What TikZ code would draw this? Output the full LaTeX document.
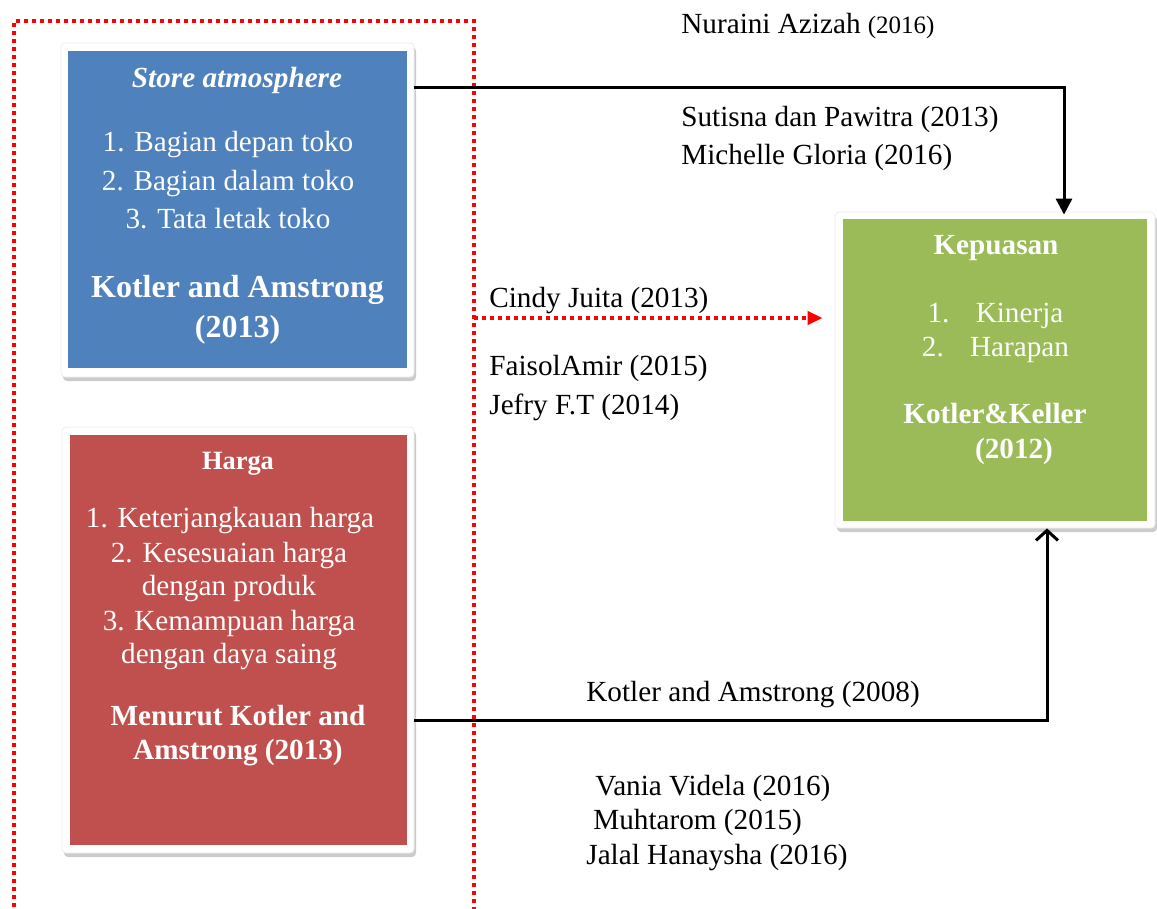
\documentclass[tikz,border=0pt]{standalone}
\usepackage{fontspec}
\setmainfont{Liberation Serif}
\usetikzlibrary{arrows.meta,shadows}
\definecolor{storeblue}{HTML}{4F81BD}
\definecolor{hargared}{HTML}{C0504D}
\definecolor{puasgreen}{HTML}{9BBB59}

\begin{document}
\begin{tikzpicture}[x=0.5pt,y=-0.5pt,
	frame/.style={fill=white,draw=black!7,line width=0.4pt,rounded corners=2pt,inner sep=0pt,
		drop shadow={shadow xshift=1pt,shadow yshift=-2pt,opacity=0.4}},
	inbox/.style={inner sep=0pt},
	wtxt/.style={text=white,anchor=base,inner sep=0pt,font=\fontsize{14.6}{17}\selectfont},
	wbold/.style={wtxt,font=\fontsize{14.6}{17}\selectfont\bfseries},
	btxt/.style={anchor=base west,inner sep=0pt,font=\fontsize{14.6}{17}\selectfont},
	reddots/.style={red,line width=2pt,dash pattern=on 2pt off 2pt}]
	\useasboundingbox (0,0) rectangle (1157,909);

	% dotted frame round the two variables
	\draw[reddots] (14,915) |- (474,21) -- (474,915);

	% boxes
	\node[frame,minimum width=176.5pt,minimum height=167pt] (store) at (237.5,210) {};
	\node[inbox,fill=storeblue,minimum width=169.5pt,minimum height=158.5pt] (storein) at (237.5,209.5) {};
	\node[frame,minimum width=176pt,minimum height=213pt] (harga) at (238,640) {};
	\node[inbox,fill=hargared,minimum width=168.5pt,minimum height=205pt] (hargain) at (238.5,640) {};
	\node[frame,minimum width=160pt,minimum height=158pt] (puas) at (995,370) {};
	\node[inbox,fill=puasgreen,minimum width=152pt,minimum height=151pt] (puasin) at (995,370) {};

	% store atmosphere
	\node[wbold,font=\fontsize{14.6}{17}\selectfont\bfseries\itshape] (sttitle) at (237,88) {Store atmosphere};
	\node[wtxt] (stone) at (228,152) {1. Bagian depan toko};
	\node[wtxt] (sttwo) at (228,191) {2. Bagian dalam toko};
	\node[wtxt] (stthree) at (228,229) {3. Tata letak toko};
	\node[wbold,font=\fontsize{16}{19}\selectfont\bfseries] (stsrc) at (237.5,298) {Kotler and Amstrong};
	\node[wbold,font=\fontsize{16}{19}\selectfont\bfseries] (styear) at (237.5,337) {(2013)};

	% harga
	\node[wbold,font=\fontsize{13.2}{16}\selectfont\bfseries] (hgtitle) at (238,469) {Harga};
	\node[wtxt] (hgone) at (230,527) {1. Keterjangkauan harga};
	\node[wtxt] (hgtwo) at (229,562) {2. Kesesuaian harga};
	\node[wtxt] (hgtwob) at (229,595) {dengan produk};
	\node[wtxt] (hgthree) at (229,630) {3. Kemampuan harga};
	\node[wtxt] (hgthreeb) at (229,663) {dengan daya saing};
	\node[wbold] (hgsrc) at (238,725) {Menurut Kotler and};
	\node[wbold] (hgyear) at (238,759) {Amstrong (2013)};

	% kepuasan
	\node[wbold] (kptitle) at (996,255) {Kepuasan};
	\node[wtxt] (kpone) at (995.5,322) {1.\hspace{0.9em}Kinerja};
	\node[wtxt] (kptwo) at (995.5,357) {2.\hspace{0.9em}Harapan};
	\node[wbold] (kpsrc) at (995,423) {Kotler\&Keller};
	\node[wbold] (kpyear) at (1014,458) {(2012)};

	% connectors
	\coordinate (tbend) at (1064,88);
	\draw[line width=1.5pt,-{Triangle[length=8pt,width=8pt]}] (store.east |- tbend) -- (tbend) -- ([yshift=-1.5pt]tbend |- puas.north);
	\coordinate (bbend) at (1047,720);
	\draw[line width=1.5pt,-{Straight Barb[length=5pt,width=11pt]}] (harga.east |- bbend) -- (bbend) -- (bbend |- puas.south);
	\coordinate (cjstart) at (474,318);
	\draw[reddots,-{Triangle[length=7.5pt,width=6.5pt]}] (cjstart) -- ([xshift=-6pt]puas.west |- cjstart);

	% references
	\node[btxt] (nuraini) at (681,34) {Nuraini Azizah {\fontsize{12.5}{15}\selectfont(2016)}};
	\node[btxt] (sutisna) at (681,127) {Sutisna dan Pawitra (2013)};
	\node[btxt] (michelle) at (681,165) {Michelle Gloria (2016)};
	\node[btxt] (cindy) at (489,307) {Cindy Juita (2013)};
	\node[btxt] (faisol) at (489,376) {FaisolAmir (2015)};
	\node[btxt] (jefry) at (489,415) {Jefry F.T (2014)};
	\node[btxt] (kotlerb) at (586,701) {Kotler and Amstrong (2008)};
	\node[btxt] (vania) at (595,795) {Vania Videla (2016)};
	\node[btxt] (muhtarom) at (593,829) {Muhtarom (2015)};
	\node[btxt] (jalal) at (586,864) {Jalal Hanaysha (2016)};
\end{tikzpicture}
\end{document}
